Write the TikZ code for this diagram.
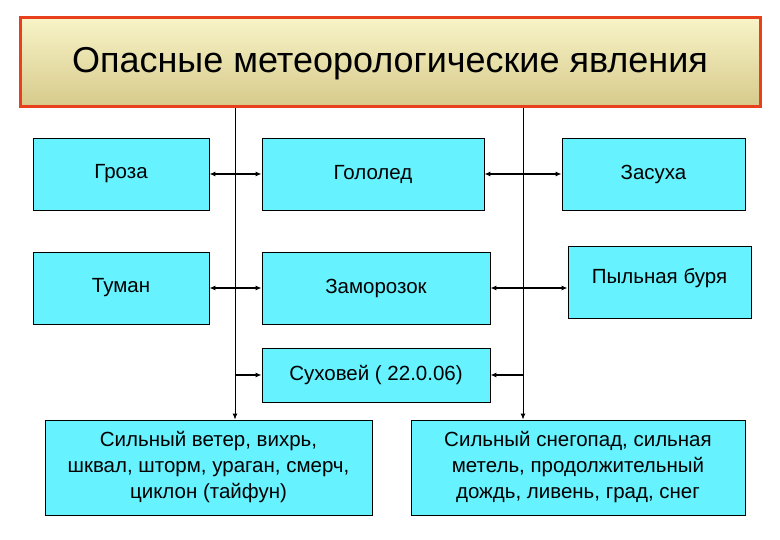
\documentclass[tikz,border=0pt]{standalone}
\usepackage{fontspec}
\setmainfont{Liberation Sans}
\usetikzlibrary{arrows.meta}
\definecolor{boxc}{HTML}{66F2FF}
\definecolor{redb}{HTML}{E8401C}
\definecolor{ktop}{HTML}{F8F4C8}
\definecolor{kbot}{HTML}{D6C98A}
\begin{document}
\begin{tikzpicture}[x=1pt,y=-1pt,
  box/.style={draw=black,line width=0.8pt,fill=boxc,font=\fontsize{20.5}{26}\selectfont},
  arr/.style={line width=1.4pt,-{Latex[length=6pt,width=5pt]}},
  darr/.style={line width=1.4pt,{Latex[length=6pt,width=5pt]}-{Latex[length=6pt,width=5pt]}},
  vl/.style={line width=1pt}]
\useasboundingbox (0,0) rectangle (780,540);
\fill[white] (0,0) rectangle (780,540);
\shade[top color=ktop,bottom color=kbot] (20,18) rectangle (760,107);
\draw[redb,line width=3pt] (20,18) rectangle (760,107);
\node[font=\fontsize{36}{40}\selectfont] (title) at (390,64) {Опасные метеорологические явления};
\node[box,minimum width=176,minimum height=72] (groza) at (121,174) {Гроза};
\node[box,minimum width=222,minimum height=72] (gololed) at (373,174) {Гололед};
\node[box,minimum width=183,minimum height=72] (zasuha) at (653.5,174) {Засуха};
\node[box,minimum width=176,minimum height=72] (tuman) at (121,288) {Туман};
\node[box,minimum width=228,minimum height=72] (zamor) at (376,288) {Заморозок};
\node[box,minimum width=183,minimum height=72,text depth=12pt] (pyl) at (659.5,282) {Пыльная буря};
\node[box,minimum width=228,minimum height=54] (suh) at (376,375) {Суховей ( 22.0.06)};
\node[box,minimum width=327,minimum height=95,align=center] (wind) at (208.5,467.5) {Сильный ветер, вихрь,\\шквал, шторм, ураган, смерч,\\циклон (тайфун)};
\node[box,minimum width=334,minimum height=95,align=center] (snow) at (578,467.5) {Сильный снегопад, сильная\\метель, продолжительный\\дождь, ливень, град, снег};
\coordinate (l0) at (235,108.5);
\coordinate (r0) at (523,108.5);
\draw[vl,-{Latex[length=6pt,width=5pt]}] (l0) -- (l0 |- wind.north);
\draw[vl,-{Latex[length=6pt,width=5pt]}] (r0) -- (r0 |- snow.north);
\draw[darr] (groza.east) -- (gololed.west);
\draw[darr] (gololed.east) -- (zasuha.west);
\draw[darr] (tuman.east) -- (zamor.west);
\draw[darr] (zamor.east) -- (zamor.east -| pyl.west);
\draw[arr] (suh.west -| l0) -- (suh.west);
\draw[arr] (suh.east -| r0) -- (suh.east);
\end{tikzpicture}
\end{document}
